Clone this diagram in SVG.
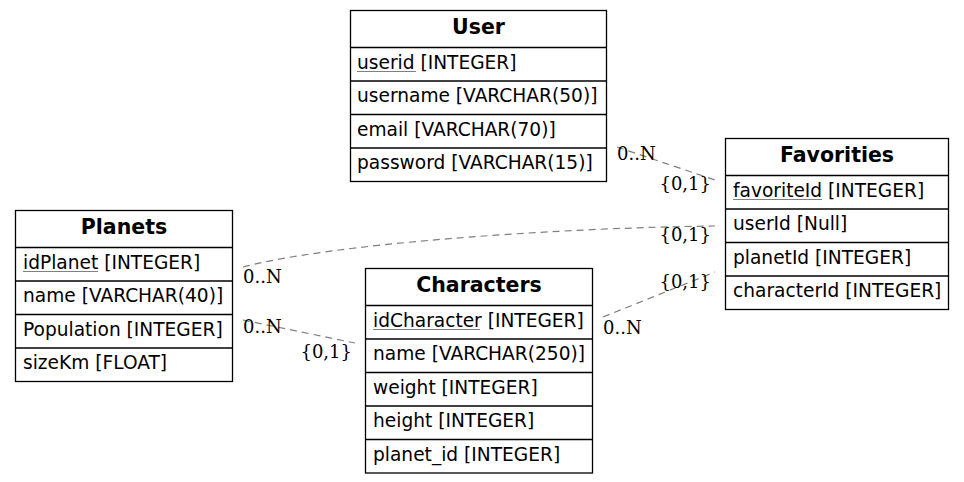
<svg xmlns="http://www.w3.org/2000/svg" width="964" height="482" viewBox="0 0 964 482">
<style>
.box{fill:#fff;stroke:#000;stroke-width:1.3}
.sep{stroke:#000;stroke-width:1.3}
.hd{font-family:"DejaVu Sans",sans-serif;font-weight:bold;font-size:20.5px;text-anchor:middle;fill:#000}
.tx{font-family:"DejaVu Sans",sans-serif;font-size:18.6px;fill:#000}
.ul{stroke:#808080;stroke-width:1}
.edge{fill:none;stroke:#7f7f7f;stroke-width:1.2;stroke-dasharray:7,5}
.lb{font-family:"DejaVu Serif",serif;font-size:18px;fill:#000}
.lbr{font-family:"DejaVu Serif",serif;font-size:18px;fill:#000;text-anchor:end}
</style>
<rect width="964" height="482" fill="#fff"/>
<g id="connectors">
<path class="edge" d="M617,147 L715,180"/>
<path class="edge" d="M243,267 C330,244 550,228 715,226"/>
<path class="edge" d="M243,320 L355,343"/>
<path class="edge" d="M603,317 L715,272"/>
<text class="lb" x="617" y="160">0..N</text>
<text class="lbr" x="711" y="190">{0,1}</text>
<text class="lb" x="243" y="283">0..N</text>
<text class="lbr" x="711" y="241">{0,1}</text>
<text class="lb" x="243" y="333">0..N</text>
<text class="lbr" x="352" y="358">{0,1}</text>
<text class="lb" x="603" y="334">0..N</text>
<text class="lbr" x="711" y="288">{0,1}</text>
</g>
<g id="User">
<rect class="box" x="350.5" y="10.5" width="256" height="171"/>
<line class="sep" x1="350.5" y1="47.5" x2="606.5" y2="47.5"/>
<line class="sep" x1="350.5" y1="81" x2="606.5" y2="81"/>
<line class="sep" x1="350.5" y1="114.5" x2="606.5" y2="114.5"/>
<line class="sep" x1="350.5" y1="148" x2="606.5" y2="148"/>
<text class="hd" x="478.5" y="33.5">User</text>
<text class="tx" x="357" y="68.5">userid [INTEGER]</text>
<line class="ul" x1="357" y1="71.5" x2="416" y2="71.5"/>
<text class="tx" x="357" y="102">username [VARCHAR(50)]</text>
<text class="tx" x="357" y="135.5">email [VARCHAR(70)]</text>
<text class="tx" x="357" y="169">password [VARCHAR(15)]</text>
</g>
<g id="Favorities">
<rect class="box" x="725.5" y="138.5" width="223" height="171"/>
<line class="sep" x1="725.5" y1="175.5" x2="948.5" y2="175.5"/>
<line class="sep" x1="725.5" y1="209" x2="948.5" y2="209"/>
<line class="sep" x1="725.5" y1="242.5" x2="948.5" y2="242.5"/>
<line class="sep" x1="725.5" y1="276" x2="948.5" y2="276"/>
<text class="hd" x="837" y="161.5">Favorities</text>
<text class="tx" x="733" y="196.5">favoriteId [INTEGER]</text>
<line class="ul" x1="733" y1="199.5" x2="822" y2="199.5"/>
<text class="tx" x="733" y="230">userId [Null]</text>
<text class="tx" x="733" y="263.5">planetId [INTEGER]</text>
<text class="tx" x="733" y="297">characterId [INTEGER]</text>
</g>
<g id="Planets">
<rect class="box" x="15.5" y="210.5" width="217" height="171"/>
<line class="sep" x1="15.5" y1="247.5" x2="232.5" y2="247.5"/>
<line class="sep" x1="15.5" y1="281" x2="232.5" y2="281"/>
<line class="sep" x1="15.5" y1="314.5" x2="232.5" y2="314.5"/>
<line class="sep" x1="15.5" y1="348" x2="232.5" y2="348"/>
<text class="hd" x="124" y="233.5">Planets</text>
<text class="tx" x="23" y="268.5">idPlanet [INTEGER]</text>
<line class="ul" x1="23" y1="271.5" x2="98" y2="271.5"/>
<text class="tx" x="23" y="302">name [VARCHAR(40)]</text>
<text class="tx" x="23" y="335.5">Population [INTEGER]</text>
<text class="tx" x="23" y="369">sizeKm [FLOAT]</text>
</g>
<g id="Characters">
<rect class="box" x="365.5" y="268.5" width="227" height="204.5"/>
<line class="sep" x1="365.5" y1="305.5" x2="592.5" y2="305.5"/>
<line class="sep" x1="365.5" y1="339" x2="592.5" y2="339"/>
<line class="sep" x1="365.5" y1="372.5" x2="592.5" y2="372.5"/>
<line class="sep" x1="365.5" y1="406" x2="592.5" y2="406"/>
<line class="sep" x1="365.5" y1="439.5" x2="592.5" y2="439.5"/>
<text class="hd" x="479" y="291.5">Characters</text>
<text class="tx" x="373" y="326.5">idCharacter [INTEGER]</text>
<line class="ul" x1="373" y1="329.5" x2="480" y2="329.5"/>
<text class="tx" x="373" y="360">name [VARCHAR(250)]</text>
<text class="tx" x="373" y="393.5">weight [INTEGER]</text>
<text class="tx" x="373" y="427">height [INTEGER]</text>
<text class="tx" x="373" y="460.5">planet_id [INTEGER]</text>
</g>
</svg>
